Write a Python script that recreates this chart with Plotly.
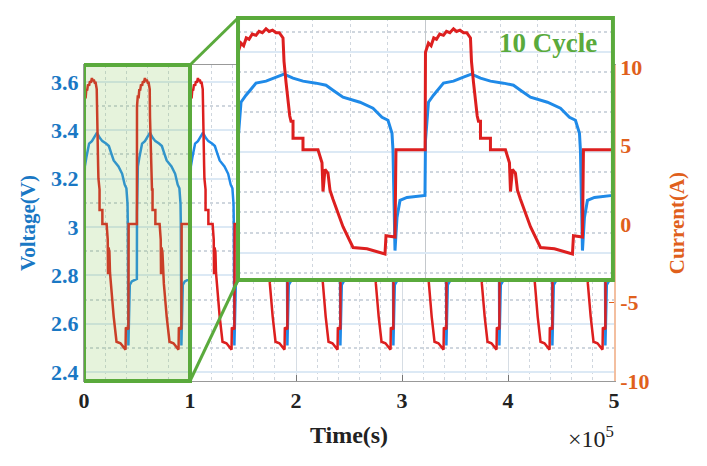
import numpy as np
import plotly.graph_objects as go

# one charge/discharge cycle (seconds into the cycle)
cycle_t_cur = [0, 800, 1500, 2200, 2930, 3800, 4800, 5600, 6500, 7470, 8300, 9200,
               10130, 11000, 12000, 12270, 12800, 13330, 13600, 13800, 14130, 14670,
               14670, 17330, 17330, 21330, 22400, 22670, 23200, 24000, 24530, 25330,
               28000, 30670, 34400, 39200, 39470, 41870, 42130, 49900]
cycle_current = [7.5, 8.2, 8.0, 8.6, 8.5, 8.9, 8.8, 9.1, 9.0, 9.3, 9.1, 9.2,
                 9.0, 9.0, 8.6, 6.8, 5.2, 3.7, 2.9, 2.6, 2.2, 2.2,
                 0.9, 0.9, 0.0, 0.0, -1.0, -3.2, -1.5, -1.8, -3.1, -3.8,
                 -5.9, -7.5, -7.6, -8.0, -6.6, -6.7, 0.0, 0.0]

cycle_t_volt = [0, 800, 2130, 4800, 7470, 10130, 12270, 14670, 17330, 20800, 23470,
                25330, 28000, 32530, 36000, 38400, 40000, 41070, 41330, 41870, 42400,
                43200, 45070, 49870]
cycle_voltage = [3.06, 3.25, 3.285, 3.345, 3.355, 3.375, 3.39, 3.37, 3.355, 3.345, 3.335,
                 3.31, 3.275, 3.25, 3.22, 3.175, 3.16, 3.095, 3.01, 2.51, 2.675,
                 2.76, 2.775, 2.785]

n_cycles = 10
period = 50000

x_ticks = [0, 1e5, 2e5, 3e5, 4e5, 5e5]
x_labels = ['0', '1', '2', '3', '4', '5']
v_ticks = [2.4, 2.6, 2.8, 3.0, 3.2, 3.4, 3.6]
v_labels = ['2.4', '2.6', '2.8', '3', '3.2', '3.4', '3.6']
i_ticks = [-10, -5, 0, 5, 10]
i_labels = ['-10', '-5', '0', '5', '10']

# repeat the cycle over the whole test
t_cur = np.concatenate([np.array(cycle_t_cur) + k * period for k in range(n_cycles)])
current = np.tile(cycle_current, n_cycles)
t_volt = np.concatenate([np.array(cycle_t_volt) + k * period for k in range(n_cycles)])
voltage = np.tile(cycle_voltage, n_cycles)

# inset shows the first two cycles
in_c = t_cur <= 1e5
in_v = t_volt <= 1e5

BLUE = '#1f8ae8'
RED = '#dd1f1f'
GREEN = '#5aaa3c'
VCOL = '#1a78c4'
ICOL = '#e0601c'
FONT = 'Liberation Serif'

v_range = [2.363, 3.67]
i_range = [-10, 10.13]
main_top = 0.8705

fig = go.Figure()
fig.add_trace(go.Scatter(x=t_volt, y=voltage, mode='lines', line=dict(color=BLUE, width=2.5),
                         xaxis='x', yaxis='y', showlegend=False))
fig.add_trace(go.Scatter(x=t_cur, y=current, mode='lines', line=dict(color=RED, width=2.5),
                         xaxis='x', yaxis='y2', showlegend=False))
fig.add_trace(go.Scatter(x=t_volt[in_v], y=voltage[in_v], mode='lines', line=dict(color=BLUE, width=3),
                         xaxis='x3', yaxis='y3', showlegend=False))
fig.add_trace(go.Scatter(x=t_cur[in_c], y=current[in_c], mode='lines', line=dict(color=RED, width=3),
                         xaxis='x3', yaxis='y4', showlegend=False))

tick_font = dict(family=FONT, size=22, weight='bold')

# page has an 8px body margin, so the figure is 8px smaller than the window
fig.update_layout(
    width=699, height=458,
    margin=dict(l=76, r=93, t=10, b=85, autoexpand=False),
    showlegend=False,
    paper_bgcolor='white', plot_bgcolor='white',
    xaxis=dict(domain=[0, 1], anchor='y', range=[0, 5e5], automargin=False,
               tickmode='array', tickvals=x_ticks, ticktext=x_labels,
               tickfont=dict(tick_font, color='#222'),
               ticks='inside', ticklen=6, tickcolor='#777',
               showline=True, linecolor='#999', linewidth=1, mirror=True,
               showgrid=True, gridcolor='#d6dde4', gridwidth=1,
               minor=dict(tick0=0, dtick=2e4, showgrid=True, griddash='dot', gridcolor='#cfd6de'),
               zeroline=False,
               title=dict(text='Time(s)', font=dict(family=FONT, size=24, weight='bold', color='#222'),
                          standoff=13)),
    yaxis=dict(domain=[0, main_top], anchor='x', range=v_range, automargin=False,
               tickmode='array', tickvals=v_ticks, ticktext=v_labels,
               tickfont=dict(tick_font, color=VCOL),
               ticks='', showline=True, linecolor='#999',
               showgrid=True, gridcolor='#dce9f5', gridwidth=1.5,
               minor=dict(tick0=0, dtick=0.1, showgrid=True, griddash='dot', gridcolor='#cfd6de'),
               zeroline=False,
               title=dict(text='Voltage(V)', font=dict(family=FONT, size=21, weight='bold', color=VCOL),
                          standoff=9)),
    yaxis2=dict(overlaying='y', side='right', anchor='x', range=i_range, automargin=False,
                tickmode='array', tickvals=i_ticks, ticktext=i_labels,
                tickfont=dict(tick_font, color=ICOL),
                ticks='inside', ticklen=5, tickcolor=ICOL,
                showline=True, linecolor='#f3bfa0', linewidth=1.5,
                showgrid=False, zeroline=False,
                title=dict(text='Current(A)', font=dict(family=FONT, size=21, weight='bold', color=ICOL),
                           standoff=21)),
    xaxis3=dict(domain=[0.2906, 0.998], anchor='y3', range=[0, 1e5], automargin=False,
                tickmode='array', tickvals=[0, 5e4, 1e5], showticklabels=False, ticks='',
                showgrid=True, gridcolor='#c4c8cc', gridwidth=1,
                minor=dict(tick0=0, dtick=1e4, showgrid=True, griddash='dot', gridcolor='#cfd6de'),
                zeroline=False, showline=False),
    yaxis3=dict(domain=[0.2782, 1], anchor='x3', range=v_range, automargin=False,
                tickmode='array', tickvals=[2.5, 3.0, 3.5], showticklabels=False, ticks='',
                showgrid=True, gridcolor='#dce9f5', gridwidth=1.5,
                minor=dict(tick0=0, dtick=0.1, showgrid=True, griddash='dot', gridcolor='#cfd6de'),
                zeroline=False, showline=False),
    yaxis4=dict(overlaying='y3', anchor='x3', range=i_range, visible=False, automargin=False),
)

# highlighted window on the main plot
fig.add_shape(type='rect', xref='x', yref='y domain', x0=0, x1=1e5, y0=0, y1=1,
              line=dict(color=GREEN, width=4), fillcolor='rgba(130,195,80,0.2)', layer='above')
# connector lines to the inset
fig.add_shape(type='line', xref='paper', yref='paper', x0=0.2, y0=main_top, x1=0.2906, y1=1.0,
              line=dict(color=GREEN, width=3), layer='above')
fig.add_shape(type='line', xref='paper', yref='paper', x0=0.2, y0=0, x1=0.2906, y1=0.2782,
              line=dict(color=GREEN, width=3), layer='above')
# inset frame
fig.add_shape(type='rect', xref='paper', yref='paper', x0=0.2906, x1=0.998, y0=0.2782, y1=1.0,
              line=dict(color=GREEN, width=4), layer='above')

fig.add_annotation(x=0.8755, y=0.931, xref='paper', yref='paper', text='10 Cycle', showarrow=False,
                   xanchor='center', yanchor='middle',
                   font=dict(family=FONT, size=27, weight='bold', color=GREEN))
fig.add_annotation(x=0.957, y=-0.154, xref='paper', yref='paper', text='×10<sup>5</sup>', showarrow=False,
                   xanchor='center', yanchor='middle',
                   font=dict(family=FONT, size=24, color='#222'))

fig.write_html('out.html')
